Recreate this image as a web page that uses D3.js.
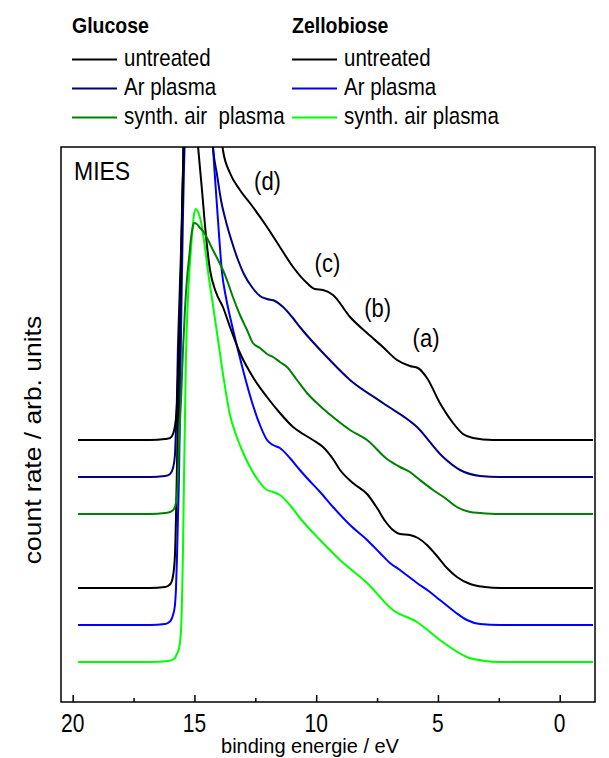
<!DOCTYPE html>
<html><head><meta charset="utf-8">
<script src="https://cdn.jsdelivr.net/npm/d3@7"></script>
<style>
body{margin:0;background:#fff}
svg{display:block}
text{font-family:Arial,"Liberation Sans",Helvetica,sans-serif;fill:#000;white-space:pre}
</style>
</head><body>
<svg id="c" width="609" height="758"></svg>
<script>
// ---------- data (binding energy / eV, count rate / arb. units) ----------
const xTicks = [20, 15, 10, 5, 0];
const xMinorTicks = [17.5, 12.5, 7.5, 2.5];

const glucoseUntreated = [[19.78,262],[16.83,262],[16.21,263],[16.00,264],[15.88,268],[15.80,276],[15.72,297],[15.68,322],[15.63,362],[15.59,402],[15.55,437],[15.51,482],[15.47,527],[15.43,572],[15.39,617],[15.27,702],[15.06,790],[14.77,780],[14.48,720],[14.24,660],[14.03,610],[13.83,552],[13.54,529],[13.13,512],[12.60,495],[12.02,475],[11.49,455],[10.95,435],[10.38,419],[10.05,413],[9.72,412],[9.31,407],[8.61,385],[7.91,369],[7.26,355],[6.68,342],[6.15,336],[5.82,334],[5.45,324],[4.92,299],[4.38,279],[3.97,268],[3.56,264],[2.74,262],[-1.37,262]];

const glucoseAr = [[19.78,225],[16.83,225],[16.21,226],[16.00,228],[15.88,234],[15.80,247],[15.76,272],[15.72,302],[15.68,352],[15.63,392],[15.59,422],[15.55,452],[15.51,492],[15.47,532],[15.43,572],[15.35,642],[15.18,732],[14.94,762],[14.65,722],[14.44,642],[14.24,555],[14.07,527],[13.91,502],[13.70,480],[13.46,460],[13.21,442],[12.97,428],[12.64,415],[12.31,406],[12.02,403],[11.69,401],[11.36,395],[10.99,385],[10.67,375],[9.56,345],[8.61,322],[7.26,299],[5.86,275],[4.79,245],[4.09,232],[3.27,226],[2.45,225],[-1.37,225]];

const glucoseAir = [[19.78,188],[16.83,188],[16.21,189],[16.00,190],[15.84,193],[15.76,199],[15.68,222],[15.63,262],[15.55,302],[15.47,352],[15.39,392],[15.31,422],[15.22,444],[15.14,464],[15.06,476],[15.02,479],[14.90,478],[14.77,474],[14.65,471],[14.44,462],[14.24,452],[14.03,442],[13.83,432],[13.62,419],[13.42,405],[13.13,387],[12.84,372],[12.60,359],[12.31,354],[12.02,348],[11.77,345],[11.49,340],[11.20,335],[10.79,322],[10.38,309],[9.84,296],[9.31,285],[8.61,272],[7.91,262],[7.09,243],[6.56,235],[6.15,230],[5.74,222],[5.20,212],[4.71,204],[4.22,195],[3.68,190],[3.27,189],[2.45,188],[-1.37,188]];

const zellobioseUntreated = [[19.78,114],[16.83,114],[16.21,115],[16.09,116],[15.96,119],[15.88,126],[15.80,147],[15.76,182],[15.72,232],[15.68,282],[15.63,332],[15.59,382],[15.55,432],[15.51,482],[15.47,527],[15.43,572],[15.35,652],[15.27,692],[15.18,672],[15.02,607],[14.85,555],[14.69,512],[14.53,467],[14.36,432],[14.12,410],[13.83,395],[13.54,375],[13.13,349],[12.60,325],[12.02,305],[11.49,289],[10.95,275],[10.54,268],[10.13,262],[9.72,255],[9.31,243],[9.02,232],[8.49,219],[7.91,208],[7.50,194],[7.17,181],[6.85,172],[6.56,168],[6.15,167],[5.82,164],[5.45,157],[5.04,146],[4.63,134],[4.22,125],[3.68,118],[3.07,115],[2.45,114],[-1.37,114]];

const zellobioseAr = [[19.78,77],[16.83,77],[16.21,78],[16.09,79],[15.96,82],[15.88,87],[15.80,97],[15.76,112],[15.72,142],[15.68,182],[15.63,232],[15.59,302],[15.55,372],[15.51,432],[15.47,487],[15.43,532],[15.39,572],[15.31,642],[15.18,702],[14.98,732],[14.69,712],[14.44,642],[14.24,555],[14.12,512],[13.99,467],[13.87,430],[13.70,404],[13.46,377],[13.13,344],[12.84,317],[12.60,297],[12.31,277],[12.02,262],[11.77,257],[11.49,254],[11.08,244],[10.67,232],[10.38,224],[9.84,210],[9.31,195],[8.61,177],[7.91,162],[7.38,149],[6.97,139],[6.56,132],[5.86,119],[5.33,110],[4.92,102],[4.30,90],[3.81,82],[3.27,78],[2.45,77],[-1.37,77]];

const zellobioseAir = [[19.78,40],[16.83,40],[16.09,41],[15.84,43],[15.72,48],[15.63,54],[15.55,72],[15.51,102],[15.47,152],[15.43,222],[15.39,282],[15.35,342],[15.27,402],[15.18,440],[15.10,467],[15.02,487],[14.94,493],[14.85,490],[14.73,480],[14.61,462],[14.44,430],[14.24,397],[14.03,362],[13.79,322],[13.54,287],[13.29,267],[13.05,252],[12.72,235],[12.39,222],[12.02,212],[11.77,210],[11.49,207],[11.08,197],[10.67,184],[9.84,162],[9.02,142],[7.91,119],[6.85,92],[5.86,80],[4.92,62],[3.81,45],[3.07,41],[2.45,40],[-1.37,40]];

const seriesNames = ["Glucose untreated","Glucose Ar plasma","Glucose synth. air plasma","Zellobiose untreated","Zellobiose Ar plasma","Zellobiose synth. air plasma"];
const seriesColors = ["#000000","#000080","#008000","#000000","#0000ff","#00ff00"];
const seriesData = [glucoseUntreated, glucoseAr, glucoseAir, zellobioseUntreated, zellobioseAr, zellobioseAir];

const legendGroups = ["Glucose","Zellobiose"];
const legendLabels = [["untreated","Ar plasma","synth. air  plasma"],["untreated","Ar plasma","synth. air plasma"]];

const peakLabels = ["(d)","(c)","(b)","(a)"];
const peakLabelEnergy = [12.0, 9.54, 7.48, 5.49];
const peakLabelCount = [512, 430, 385, 355];

// ---------- layout ----------
const svg = d3.select("#c");
const M = {l:61, r:595, t:147, b:702};
const x = d3.scaleLinear().domain([20.48, -1.45]).range([M.l, M.r]);
const y = d3.scaleLinear().domain([0, 555]).range([M.b, M.t]);

function stext(g, px, py, str, size, sy, anchor, weight, rot){
  return g.append("text")
    .attr("transform", `translate(${px},${py}) scale(1,${sy})` + (rot ? ` rotate(${rot})` : ""))
    .attr("font-size", size)
    .attr("text-anchor", anchor || "start")
    .attr("font-weight", weight || "normal")
    .text(str);
}

svg.append("defs").append("clipPath").attr("id","clip")
  .append("rect").attr("x",M.l).attr("y",M.t).attr("width",M.r-M.l).attr("height",M.b-M.t);

// curves
const line = d3.line().x(d=>x(d[0])).y(d=>y(d[1])).curve(d3.curveMonotoneX);
const gc = svg.append("g").attr("clip-path","url(#clip)");
const drawOrder = [5,4,3,2,1,0];
drawOrder.forEach(i=>{
  gc.append("path").datum(seriesData[i])
    .attr("fill","none").attr("stroke",seriesColors[i]).attr("stroke-width",2)
    .attr("stroke-linejoin","round").attr("d",line);
});

// axis ticks (inward)
const ax = svg.append("g").attr("transform",`translate(0,${M.b})`)
  .call(d3.axisBottom(x).tickValues(xTicks).tickSize(-7).tickFormat(""));
const axm = svg.append("g").attr("transform",`translate(0,${M.b})`)
  .call(d3.axisBottom(x).tickValues(xMinorTicks).tickSize(-4).tickFormat(""));
[ax,axm].forEach(a=>{a.select(".domain").remove(); a.selectAll("line").attr("stroke","#000").attr("stroke-width",1.5);});

// frame
svg.append("rect").attr("x",M.l).attr("y",M.t).attr("width",M.r-M.l).attr("height",M.b-M.t)
  .attr("fill","none").attr("stroke","#000").attr("stroke-width",1.5);

// tick labels
xTicks.forEach(v=>stext(svg, x(v), 731.5, String(v), 21, 1.2, "middle"));

// axis titles
stext(svg, 310, 753, "binding energie / eV", 20, 1, "middle");
stext(svg, 41, 440, "count rate / arb. units", 23, 1.15, "middle", null, -90);

// MIES
stext(svg, 74, 180, "MIES", 23, 1.1);

// peak labels
peakLabels.forEach((t,i)=>stext(svg, x(peakLabelEnergy[i]), y(peakLabelCount[i]), t, 22, 1.15, "middle"));

// legend
const legX = [72, 292];
const legRowY = [59.5, 88.5, 117.5];
legendGroups.forEach((gname,c)=>{
  stext(svg, legX[c], 33, gname, 19.5, 1.1, "start", "bold");
  legendLabels[c].forEach((lab,r)=>{
    const si = c*3 + r;
    svg.append("line").attr("x1",legX[c]).attr("x2",legX[c]+45)
      .attr("y1",legRowY[r]).attr("y2",legRowY[r])
      .attr("stroke",seriesColors[si]).attr("stroke-width",2);
    stext(svg, legX[c]+52, legRowY[r]+6.5, lab, 20.5, 1.2);
  });
});
</script>
</body></html>
